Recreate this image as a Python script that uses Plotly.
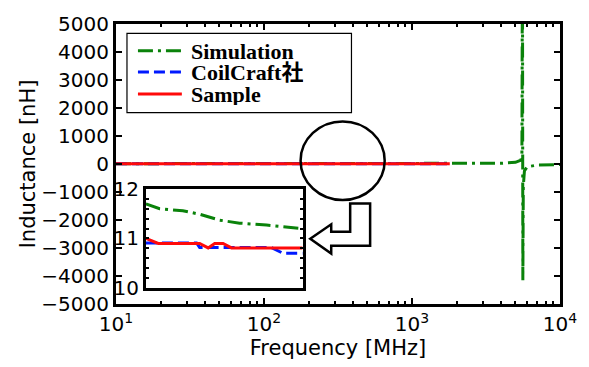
import numpy as np
import plotly.graph_objects as go

# ---------------- data ----------------
# main plot (Frequency [MHz], Inductance [nH])
sim_freq = [10, 20, 50, 100, 180, 300, 600, 1000, 2000, 3000, 4000, 5000, 5450, 5530, 5575, 5610, 5650, 5750, 6000, 7000, 8500, 10000]
sim_L = [11.9, 11.85, 11.8, 11.75, 11.7, 11.4, 11.2, 11.3, 13, 16, 25, 60, 140, 400, 8000, -4150, -800, -250, -100, -40, -25, -20]

coil_freq = [10, 20, 50, 100, 180, 265, 272, 470, 516, 600, 1000, 1800]
coil_L = [10.95, 10.93, 10.92, 10.91, 10.91, 10.91, 10.82, 10.82, 10.7, 10.7, 10.68, 10.65]

samp_freq = [10, 20, 50, 100, 180, 198, 272, 290, 305, 326, 347, 600, 1000, 1800]
samp_L = [11.1, 11.05, 11.02, 11.0, 11.0, 10.9, 10.9, 10.81, 10.9, 10.9, 10.81, 10.81, 10.8, 10.8]

# inset (zoom of 180-600 MHz)
ins_sim_freq = [180, 200, 239, 272, 317, 370, 455, 600]
ins_sim_L = [11.70, 11.60, 11.56, 11.49, 11.37, 11.31, 11.27, 11.20]
ins_coil_freq = [180, 265.6, 272, 471.6, 516.1, 600]
ins_coil_L = [10.91, 10.91, 10.82, 10.82, 10.70, 10.70]
ins_samp_freq = [180, 197.8, 272, 290.4, 305.4, 325.6, 347.4, 600]
ins_samp_L = [11.0, 10.90, 10.90, 10.81, 10.90, 10.90, 10.81, 10.81]

series_names = ["Simulation", "CoilCraft社", "Sample"]
x_tick_vals = [10, 100, 1000, 10000]
x_tick_text = ["10<sup>1</sup>", "10<sup>2</sup>", "10<sup>3</sup>", "10<sup>4</sup>"]
inset_y_labels = [10, 11, 12]

# ---------------- styles ----------------
GREEN, BLUE, RED = "#0a820a", "#0019ff", "#ff0a0a"
styles = [
    dict(color=GREEN, dash="15px,5px,3px,5px", width=3),
    dict(color=BLUE, dash="11px,5px", width=3),
    dict(color=RED, dash="solid", width=3),
]

W, H = 589, 367
L_, R_, T_, B_ = 116, 561, 14, 311


def px(x):
    return (x - L_) / (R_ - L_)


def py(y):
    return (B_ - y) / (B_ - T_)


fig = go.Figure()
main_sets = [(sim_freq, sim_L), (coil_freq, coil_L), (samp_freq, samp_L)]
ins_sets = [(ins_sim_freq, ins_sim_L), (ins_coil_freq, ins_coil_L), (ins_samp_freq, ins_samp_L)]
for (xf, yl), st, nm in zip(main_sets, styles, series_names):
    fig.add_trace(go.Scatter(x=xf, y=yl, mode="lines", name=nm, line=st,
                             showlegend=False, xaxis="x", yaxis="y"))
for (xf, yl), st, nm in zip(ins_sets, styles, series_names):
    fig.add_trace(go.Scatter(x=xf, y=yl, mode="lines", name=nm, line=st,
                             showlegend=False, xaxis="x2", yaxis="y2"))

minor_vals = [m * 10 ** d for d in range(1, 4) for m in range(2, 10)]
TICKFONT = dict(family="DejaVu Sans", size=20, color="black")

fig.update_layout(
    width=W, height=H,
    margin=dict(l=L_, r=W - R_, t=T_, b=H - B_),
    paper_bgcolor="white", plot_bgcolor="white",
    xaxis=dict(type="log", range=[1, 4], domain=[0, 1],
               tickmode="array", tickvals=x_tick_vals, ticktext=x_tick_text,
               ticks="inside", ticklen=6, tickwidth=2, tickcolor="black",
               minor=dict(tickmode="array", tickvals=minor_vals, ticks="inside",
                          ticklen=3, tickwidth=2, tickcolor="black"),
               showline=True, linewidth=3, linecolor="black", mirror="allticks",
               showgrid=False, zeroline=False, tickfont=TICKFONT,
               title=dict(text="Frequency [MHz]", font=dict(family="DejaVu Sans", size=21, color="black"),
                          standoff=4)),
    yaxis=dict(range=[-5000, 5000], dtick=1000, domain=[0, 1],
               ticks="inside", ticklen=6, tickwidth=2, tickcolor="black",
               showline=True, linewidth=3, linecolor="black", mirror="allticks",
               showgrid=False, zeroline=False, tickfont=TICKFONT,
               title=dict(text="Inductance [nH]", font=dict(family="DejaVu Sans", size=21, color="black"),
                          standoff=0)),
    xaxis2=dict(type="log", range=[np.log10(180), np.log10(600)],
                domain=[px(146), px(303)], anchor="y2",
                showticklabels=False, ticks="", showline=True, linewidth=3,
                linecolor="black", mirror=True, showgrid=False, zeroline=False),
    yaxis2=dict(range=[10, 12], domain=[py(294), py(189)], anchor="x2",
                tickmode="array", tickvals=inset_y_labels,
                ticktext=[str(v) for v in inset_y_labels],
                ticks="inside", ticklen=3, tickwidth=2, tickcolor="black",
                minor=dict(dtick=0.2, ticks="inside", ticklen=3, tickwidth=2, tickcolor="black"),
                showline=True, linewidth=3, linecolor="black", mirror="allticks",
                showgrid=False, zeroline=False, tickfont=TICKFONT),
)

shapes = []
# white background for inset
shapes.append(dict(type="rect", xref="paper", yref="paper", x0=px(146), x1=px(303),
                   y0=py(294), y1=py(189), fillcolor="white", line=dict(width=0), layer="below"))
# circle
shapes.append(dict(type="circle", xref="paper", yref="paper",
                   x0=px(301), x1=px(385.3), y0=py(200.7), y1=py(117.3),
                   line=dict(color="black", width=2.5), layer="above"))
# arrow
arrow_pts = [(350.7, 204.3), (370.7, 204.3), (370.7, 249.3), (331.7, 249.3), (331.7, 257.5),
             (310.7, 241.8), (331.7, 226.5), (331.7, 234.3), (350.7, 234.3)]
path = "M " + " L ".join(f"{px(a):.5f},{py(b):.5f}" for a, b in arrow_pts) + " Z"
shapes.append(dict(type="path", xref="paper", yref="paper", path=path, fillcolor="white",
                   line=dict(color="black", width=2.5), layer="above"))
# legend box
shapes.append(dict(type="rect", xref="paper", yref="paper", x0=px(127), x1=px(352),
                   y0=py(108), y1=py(24), fillcolor="white",
                   line=dict(color="black", width=1.2), layer="above"))
annotations = []
row_y = [42.3, 65.0, 88.3]
for nm, st, ry in zip(series_names, styles, row_y):
    shapes.append(dict(type="line", xref="paper", yref="paper", x0=px(138), x1=px(182),
                       y0=py(ry), y1=py(ry), line=dict(color=st["color"], width=3, dash=st["dash"]),
                       layer="above"))
    annotations.append(dict(xref="paper", yref="paper", x=px(189), y=py(ry), text=nm,
                            xanchor="left", yanchor="middle", showarrow=False, height=22,
                            font=dict(family="Liberation Serif, Noto Sans CJK JP",
                                      size=22, color="black", weight="bold")))
fig.update_layout(shapes=shapes, annotations=annotations)

fig.write_html("out.html")
